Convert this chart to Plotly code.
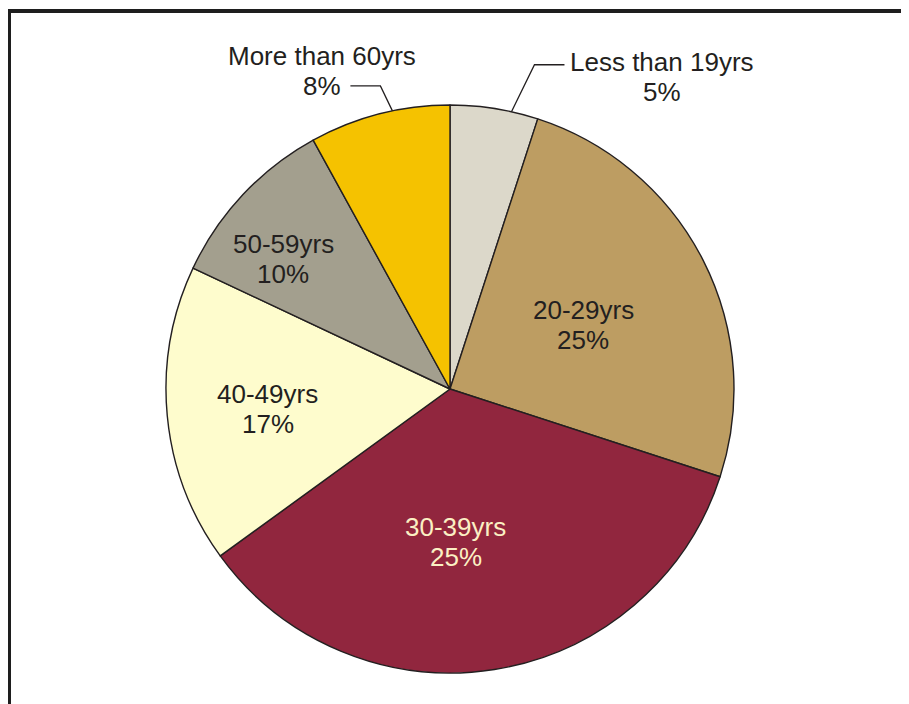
import math
import plotly.graph_objects as go

# ---- data ----
age_groups = ["Less than 19yrs", "20-29yrs", "30-39yrs", "40-49yrs", "50-59yrs", "More than 60yrs"]
shares = [5, 25, 35, 17, 10, 8]              # slice sizes
share_labels = ["5%", "25%", "25%", "17%", "10%", "8%"]   # printed labels (as in original)

# ---- style ----
colors = ["#DCD8CA", "#BD9D62", "#91263E", "#FEFCCD", "#A39F8E", "#F5C200"]
text_colors = ["#231F20", "#231F20", "#FBF0C4", "#231F20", "#231F20", "#231F20"]
FONT = "Liberation Sans, Arial, sans-serif"
FS = 26

OFF = 8                      # page body margin
W, H = 909 - OFF, 704 - OFF  # figure size so it fits the window
CX, CY, R = 450, 389, 284    # pie centre / radius in page pixels

def px(x):
    return (x - OFF) / W

def py(y):
    return 1 - (y - OFF) / H

fig = go.Figure(go.Pie(
    labels=age_groups,
    values=shares,
    sort=False,
    direction="clockwise",
    rotation=0,
    textinfo="none",
    hoverinfo="skip",
    marker=dict(colors=colors, line=dict(color="#231F20", width=1.4)),
    domain=dict(x=[px(CX - R), px(CX + R)], y=[py(CY + R), py(CY - R)]),
    showlegend=False,
))

# slice mid angles (degrees clockwise from 12 o'clock) from the data
total = sum(shares)
mids = []
acc = 0
for v in shares:
    mids.append((acc + v / 2) / total * 360)
    acc += v

def polar(angle_deg, r):
    a = math.radians(angle_deg)
    return CX + r * math.sin(a), CY - r * math.cos(a)

annotations = []

def two_line(name, pct, x, y, color, spacing=30):
    for txt, yy in ((name, y - spacing / 2), (pct, y + spacing / 2)):
        annotations.append(dict(
            text=txt, x=px(x), y=py(yy), xref="paper", yref="paper",
            xanchor="center", yanchor="middle", showarrow=False,
            font=dict(family=FONT, size=FS, color=color),
        ))

# inside labels: (angle shift, radial fraction)
inside_style = {1: (1.3, 0.52), 2: (6.8, 0.54), 3: (-0.9, 0.645), 4: (-5.2, 0.745)}
for i, (shift, frac) in inside_style.items():
    x, y = polar(mids[i] + shift, frac * R)
    two_line(age_groups[i], share_labels[i], x, y, text_colors[i])

# outside labels with leader lines: angle shift, elbow offset, horizontal run, text offset, spacing
outside_style = {
    0: dict(shift=3.5, elbow=(23, -47), run=30, text=(98, 12.5), spacing=30),
    5: dict(shift=2.7, elbow=(-12, -25), run=-30, text=(-28, -15), spacing=30),
}
shapes = []
for i, st in outside_style.items():
    ax, ay = polar(mids[i] + st["shift"], R)
    ex, ey = ax + st["elbow"][0], ay + st["elbow"][1]
    hx = ex + st["run"]
    shapes.append(dict(type="path", xref="paper", yref="paper",
                       path=f"M {px(ax)},{py(ay)} L {px(ex)},{py(ey)} L {px(hx)},{py(ey)}",
                       line=dict(color="#231F20", width=1.3)))
    tx, ty = hx + st["text"][0], ey + st["text"][1]
    two_line(age_groups[i], share_labels[i], tx, ty, text_colors[i], st["spacing"])

# frame (top and left edges visible)
shapes.append(dict(type="line", xref="paper", yref="paper",
                   x0=px(9), y0=py(11), x1=px(W + 40), y1=py(11),
                   line=dict(color="#1E1E1E", width=4)))
shapes.append(dict(type="line", xref="paper", yref="paper",
                   x0=px(9), y0=py(9), x1=px(9), y1=py(H + 40),
                   line=dict(color="#1E1E1E", width=4)))

fig.update_layout(
    width=W, height=H,
    margin=dict(l=0, r=0, t=0, b=0),
    paper_bgcolor="white", plot_bgcolor="white",
    annotations=annotations,
    shapes=shapes,
)

fig.write_html("out.html", config={"displayModeBar": False})
